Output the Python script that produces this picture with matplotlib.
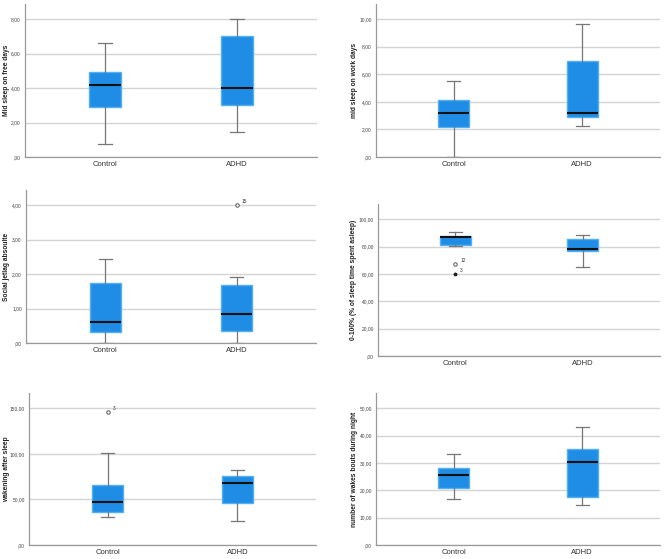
import matplotlib
matplotlib.use('Agg')
import matplotlib.pyplot as plt
from matplotlib.ticker import FuncFormatter

plt.rcParams['font.family'] = ['Liberation Sans', 'DejaVu Sans']

groups = ['Control', 'ADHD']

# per panel: [control, adhd] for whisker low, q1, median, q3, whisker high
free_days = {'whislo': [0.75, 1.45], 'q1': [2.9, 3.0], 'med': [4.2, 4.0], 'q3': [4.95, 7.0], 'whishi': [6.6, 8.0]}
work_days = {'whislo': [0.0, 2.25], 'q1': [2.18, 2.9], 'med': [3.18, 3.17], 'q3': [4.1, 6.98], 'whishi': [5.48, 9.67]}
jetlag = {'whislo': [0.0, 0.0], 'q1': [0.31, 0.34], 'med': [0.62, 0.83], 'q3': [1.75, 1.69], 'whishi': [2.45, 1.92]}
sleep_pct = {'whislo': [80.7, 65.4], 'q1': [81.2, 76.6], 'med': [87.3, 78.3], 'q3': [88.0, 85.6], 'whishi': [91.0, 88.8]}
waso = {'whislo': [30.4, 26.0], 'q1': [36.6, 45.7], 'med': [47.6, 67.7], 'q3': [65.9, 75.7], 'whishi': [101.0, 82.3]}
wake_bouts = {'whislo': [16.8, 14.7], 'q1': [20.8, 17.6], 'med': [25.7, 30.3], 'q3': [28.0, 35.2], 'whishi': [33.2, 43.2]}

# outliers: (group index, value, case label, marker)
jetlag_out = [(1, 4.0, '15', 'o')]
sleep_pct_out = [(0, 67.3, '12', 'o'), (0, 59.8, '3', '*')]
waso_out = [(0, 146.0, '3', 'o')]

panels = [
    # data, outliers, ylabel, ticks, ymax, rect in pixels (left, top, right, bottom), ylabel x pixel
    (free_days, [], 'Mid sleep on free days', [0, 2, 4, 6, 8], 8.87, (25, 4, 317, 157), 10),
    (work_days, [], 'mid sleep on work days', [0, 2, 4, 6, 8, 10], 11.1, (376, 4, 660, 157), 358),
    (jetlag, jetlag_out, 'Social jetlag absoulte', [0, 1, 2, 3, 4], 4.44, (26, 190, 316, 343), 10),
    (sleep_pct, sleep_pct_out, '0-100% (% of sleep time spent asleep)', [0, 20, 40, 60, 80, 100], 111.2,
     (378, 204, 660, 356), 357),
    (waso, waso_out, 'wakening after sleep', [0, 50, 100, 150], 166.8, (29, 393, 316, 545), 10),
    (wake_bouts, [], 'number of wakes bouts during night', [0, 10, 20, 30, 40, 50], 55.6, (376, 393, 660, 545), 358),
]

W, H = 668, 559
fig = plt.figure(figsize=(W / 100, H / 100), dpi=100)

box_face = '#1f8de6'
box_edge = '#55b0f2'
whisk_col = '#777777'


def fmt(v, pos):
    s = f'{v:.2f}'.replace('.', ',')
    if s.startswith('0,'):
        s = s[1:]
    return s


for data, outs, ylabel, ticks, ymax, (l, t, r, b), lab_x in panels:
    ax = fig.add_axes([l / W, (H - b) / H, (r - l) / W, (b - t) / H])
    stats = []
    for i, g in enumerate(groups):
        stats.append({'label': g, 'whislo': data['whislo'][i], 'q1': data['q1'][i],
                      'med': data['med'][i], 'q3': data['q3'][i], 'whishi': data['whishi'][i],
                      'fliers': []})
    ax.bxp(stats, positions=[1, 2], widths=0.24, patch_artist=True, showfliers=False,
           boxprops=dict(facecolor=box_face, edgecolor=box_edge, linewidth=1.0),
           medianprops=dict(color='#111111', linewidth=1.5),
           whiskerprops=dict(color=whisk_col, linewidth=0.9),
           capprops=dict(color=whisk_col, linewidth=0.9), capwidths=0.1, zorder=3)
    for gi, val, lab, mk in outs:
        if mk == 'o':
            ax.plot(gi + 1, val, marker='o', ms=2.5, mfc='white', mec='#555555', mew=0.7, zorder=4)
        else:
            ax.plot(gi + 1, val, marker='*', ms=2.5, color='#222222', zorder=4)
        ax.text(gi + 1 + 0.04, val + ymax * 0.008, lab, fontsize=3.5, color='#333333',
                ha='left', va='bottom')
    ax.set_xlim(0.394, 2.606)
    ax.set_ylim(0, ymax)
    ax.set_yticks(ticks)
    ax.yaxis.set_major_formatter(FuncFormatter(fmt))
    ax.grid(axis='y', color='#d4d4d4', linewidth=1.0, zorder=0)
    ax.set_axisbelow(True)
    for s in ['top', 'right']:
        ax.spines[s].set_visible(False)
    for s in ['left', 'bottom']:
        ax.spines[s].set_color('#999999')
        ax.spines[s].set_linewidth(0.9)
    ax.tick_params(axis='y', length=0, labelsize=3.5, pad=3, labelcolor='#444444')
    ax.tick_params(axis='x', length=0, labelsize=5.5, pad=3, labelcolor='#333333')
    ax.set_xticks([1, 2])
    ax.set_xticklabels(groups)
    ax.set_ylabel(ylabel, fontsize=4.8, fontweight='bold', color='#222222')
    ax.yaxis.set_label_coords((lab_x - l) / (r - l), 0.5)

fig.savefig('out.png', dpi=100, facecolor='white')
